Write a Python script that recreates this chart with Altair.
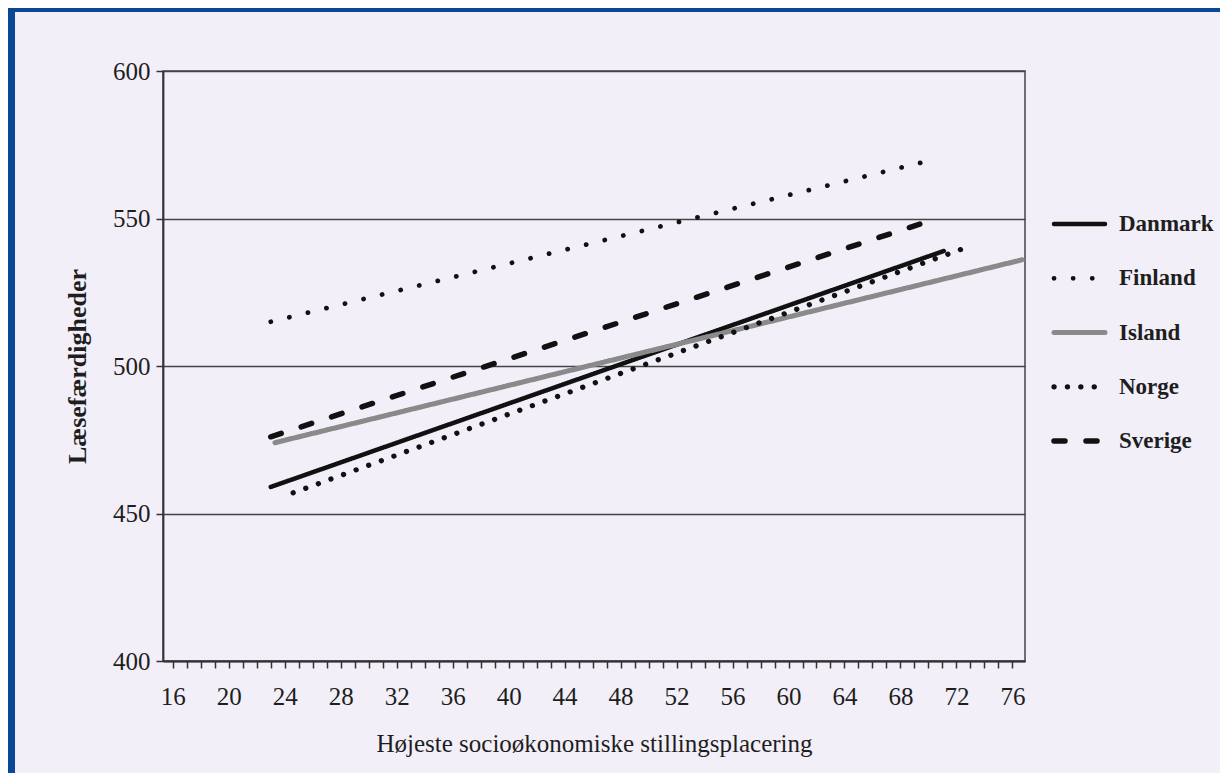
import altair as alt
import pandas as pd

countries = ["Danmark", "Finland", "Island", "Norge", "Sverige"]
x_start = [23.0, 23.0, 23.3, 24.6, 23.0]
x_end = [71.1, 70.4, 76.7, 72.6, 70.6]
y_start = [459, 515, 474, 457, 476]
y_end = [539, 570, 536, 540, 550]

dashes = [[1, 0], [0.1, 19], [1, 0], [0.1, 13.3], [11, 21]]
colors = ["#111111", "#111111", "#8a8a8a", "#111111", "#111111"]
widths = [4.5, 5.5, 1.8, 5.5, 4.5]

rows = []
for c, xs, xe, ys, ye in zip(countries, x_start, x_end, y_start, y_end):
    rows.append({"land": c, "x": xs, "y": ys})
    rows.append({"land": c, "x": xe, "y": ye})
df = pd.DataFrame(rows)
leg = pd.DataFrame({"land": countries})

FONT = "Liberation Serif"
TXT = "#1e1e1e"
BG = "#f2eff8"
BLUE = "#0b4797"

dash_scale = alt.Scale(domain=countries, range=dashes)
color_scale = alt.Scale(domain=countries, range=colors)
width_scale = alt.Scale(domain=countries, range=widths)

lines = alt.Chart(df).mark_line(strokeCap="round").encode(
    x=alt.X("x:Q", scale=alt.Scale(domain=[15.3, 76.9], nice=False, zero=False),
            axis=alt.Axis(values=list(range(16, 77)),
                          labelExpr="datum.value % 4 == 0 ? datum.label : ''",
                          labelOverlap=False, grid=False,
                          title="Højeste socioøkonomiske stillingsplacering")),
    y=alt.Y("y:Q", scale=alt.Scale(domain=[400, 600], nice=False, zero=False),
            axis=alt.Axis(values=[400, 450, 500, 550, 600], grid=True,
                          title="Læsefærdigheder", titleFontWeight="bold",
                          titleFontSize=26)),
    detail="land:N",
    strokeDash=alt.StrokeDash("land:N", scale=dash_scale, legend=None),
    color=alt.Color("land:N", scale=color_scale, legend=None),
    strokeWidth=alt.StrokeWidth("land:N", scale=width_scale, legend=None),
)

leg_y = alt.Y("land:N", scale=alt.Scale(type="point", domain=countries, range=[153, 370], padding=0), axis=None)

leg_rule = alt.Chart(leg).mark_rule(strokeCap="round").encode(
    y=leg_y,
    x=alt.value(891), x2=alt.value(942),
    strokeDash=alt.StrokeDash("land:N", scale=dash_scale, legend=None),
    color=alt.Color("land:N", scale=color_scale, legend=None),
    strokeWidth=alt.StrokeWidth("land:N", scale=width_scale, legend=None),
)

leg_text = alt.Chart(leg).mark_text(align="left", baseline="middle", font=FONT,
                                     fontSize=23, color=TXT, fontWeight="bold").encode(
    y=leg_y, x=alt.value(956), text="land:N"
)

one = pd.DataFrame({"a": [0]})
strip_left = alt.Chart(one).mark_rect(color=BLUE).encode(
    x=alt.value(-155), x2=alt.value(-148), y=alt.value(-63), y2=alt.value(720))
strip_top = alt.Chart(one).mark_rect(color=BLUE).encode(
    x=alt.value(-155), x2=alt.value(1100), y=alt.value(-63), y2=alt.value(-59))

chart = alt.layer(strip_left, strip_top, lines, leg_rule, leg_text).resolve_scale(
    y="independent"
).properties(
    width=862, height=590,
    background=BG,
    padding={"left": 155, "top": 63, "right": 195, "bottom": 112},
    autosize=alt.AutoSizeParams(type="none"),
).configure_view(
    stroke="#444444", strokeWidth=1.5
).configure_axis(
    labelFont=FONT, titleFont=FONT, labelColor=TXT, titleColor=TXT,
    labelFontSize=25, titleFontSize=25, titleFontWeight="normal",
    domainColor="#333333", domainWidth=1.8, tickColor="#333333", tickWidth=1.5,
    gridColor="#444444", gridWidth=1.4, gridOpacity=1,
).configure_axisX(
    tickSize=7, labelPadding=16, titlePadding=22
).configure_axisY(
    tickSize=7, labelPadding=6, titlePadding=22
)

chart.save("out.html", embed_options={"renderer": "svg", "actions": False})
